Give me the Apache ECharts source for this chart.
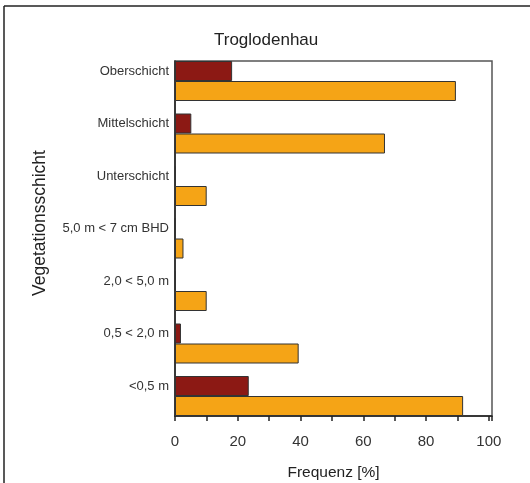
<!DOCTYPE html>
<html><head><meta charset="utf-8">
<script src="https://cdn.jsdelivr.net/npm/echarts@6/dist/echarts.min.js"></script>
<style>html,body{margin:0;padding:0;background:#fff}#c{width:530px;height:483px}</style>
</head><body><div id="c"></div>
<script>
const categories = ['Oberschicht','Mittelschicht','Unterschicht','5,0 m < 7 cm BHD','2,0 < 5,0 m','0,5 < 2,0 m','<0,5 m'];
const darkValues = [18.2, 5.2, 0.3, 0, 0.3, 1.9, 23.5];
const orangeValues = [89.5, 66.9, 10.1, 2.7, 10.1, 39.4, 91.8];
const xTicks = [0, 20, 40, 60, 80, 100];

const chart = echarts.init(document.getElementById('c'));
const font = 'Liberation Sans, Arial, sans-serif';
chart.setOption({
  animation: false,
  title: {text: 'Troglodenhau', left: 214, top: 32, padding: 0,
    textStyle: {fontFamily: font, fontSize: 17, fontWeight: 'normal', color: '#222'}},
  graphic: [
    {type: 'line', shape: {x1: 4, y1: 6, x2: 530, y2: 6}, style: {stroke: '#222', lineWidth: 1.5}},
    {type: 'line', shape: {x1: 4, y1: 6, x2: 4, y2: 483}, style: {stroke: '#222', lineWidth: 1.5}},
    {type: 'text', x: 40, y: 223, rotation: Math.PI/2,
      style: {text: 'Vegetationsschicht', font: '17.5px ' + font, fill: '#222', align: 'center', verticalAlign: 'middle'}}
  ],
  grid: [
    {left: 175, right: 38, top: 61, bottom: 67, show: true, borderColor: '#555', borderWidth: 1.5, backgroundColor: 'transparent', outerBoundsMode: 'none', containLabel: false},
    {left: 175, right: 38, top: 54.75, bottom: 60.75, outerBoundsMode: 'none', containLabel: false},
    {left: 175, right: 38, top: 44.75, bottom: 70.75, outerBoundsMode: 'none', containLabel: false}
  ],
  xAxis: [
    {gridIndex: 0, type: 'value', min: 0, max: 101, interval: 10,
      axisLine: {show: true, lineStyle: {color: '#222', width: 1.5}},
      axisTick: {show: true, inside: false, length: 5, lineStyle: {color: '#222', width: 1.5}},
      splitLine: {show: false},
      axisLabel: {margin: 18, fontFamily: font, fontSize: 15, color: '#333',
        formatter: v => xTicks.includes(v) ? String(v) : ''},
      name: 'Frequenz [%]', nameLocation: 'middle', nameGap: 49,
      nameTextStyle: {fontFamily: font, fontSize: 15.5, color: '#222'}},
    {gridIndex: 1, type: 'value', min: 0, max: 101, show: false},
    {gridIndex: 2, type: 'value', min: 0, max: 101, show: false}
  ],
  yAxis: [
    {gridIndex: 0, type: 'value', min: 0, max: 1, show: true,
      axisLine: {show: true, lineStyle: {color: '#222', width: 1.5}},
      axisTick: {show: false}, axisLabel: {show: false}, splitLine: {show: false}},
    {gridIndex: 1, type: 'category', data: categories, inverse: true, show: false},
    {gridIndex: 2, type: 'category', data: categories, inverse: true,
      axisLine: {show: false}, axisTick: {show: false}, splitLine: {show: false},
      axisLabel: {margin: 6, fontFamily: font, fontSize: 13, color: '#333'}}
  ],
  series: [
    {type: 'bar', xAxisIndex: 1, yAxisIndex: 1, data: darkValues, barWidth: 20, barGap: '0%',
      itemStyle: {color: '#8c1914', borderColor: '#333', borderWidth: 1}},
    {type: 'bar', xAxisIndex: 1, yAxisIndex: 1, data: orangeValues, barWidth: 20, barGap: '0%',
      itemStyle: {color: '#f5a416', borderColor: '#333', borderWidth: 1}}
  ]
});
</script></body></html>
